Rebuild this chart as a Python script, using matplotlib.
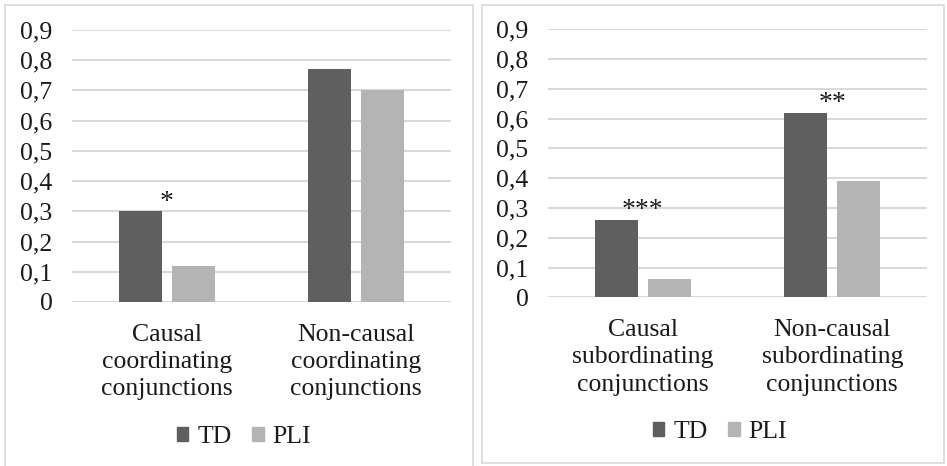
import matplotlib
matplotlib.use("Agg")
import matplotlib.pyplot as plt
from matplotlib.patches import Rectangle, Patch

plt.rcParams['font.family'] = ['Liberation Serif', 'DejaVu Serif']

series = ["TD", "PLI"]
left_categories = ["Causal\ncoordinating\nconjunctions", "Non-causal\ncoordinating\nconjunctions"]
left_td = [0.30, 0.77]
left_pli = [0.12, 0.70]
left_marks = ["*", ""]

right_categories = ["Causal\nsubordinating\nconjunctions", "Non-causal\nsubordinating\nconjunctions"]
right_td = [0.26, 0.62]
right_pli = [0.06, 0.39]
right_marks = ["***", "**"]

yticks = [0, 0.1, 0.2, 0.3, 0.4, 0.5, 0.6, 0.7, 0.8, 0.9]
ytick_labels = ["0", "0,1", "0,2", "0,3", "0,4", "0,5", "0,6", "0,7", "0,8", "0,9"]

W, H = 947, 466
fig = plt.figure(figsize=(W / 100, H / 100), dpi=100)

TD_COLOR = "#5f5f5f"
PLI_COLOR = "#b4b4b4"
GRID = "#d9d9d9"
TEXT = "#1a1a1a"
FS = 18.5


def px_rect(x0, y0, x1, y1):
    return [x0 / W, 1 - y1 / H, (x1 - x0) / W, (y1 - y0) / H]


# panel frames
fig.patches.append(Rectangle((5 / W, -0.01), (473 - 5) / W, 1 - 5 / H + 0.01,
                             transform=fig.transFigure, fill=False,
                             edgecolor=GRID, linewidth=1.2))
fig.patches.append(Rectangle((482 / W, 1 - 463 / H), (944 - 482) / W, (463 - 5) / H,
                             transform=fig.transFigure, fill=False,
                             edgecolor=GRID, linewidth=1.2))


def panel(rect, cats, td, pli, marks, legend_center):
    ax = fig.add_axes(rect)
    x = list(range(len(cats)))
    w = 0.227
    off = 0.14
    ax.bar([i - off for i in x], td, width=w, color=TD_COLOR, zorder=3)
    ax.bar([i + off for i in x], pli, width=w, color=PLI_COLOR, zorder=3)
    for i, m in enumerate(marks):
        if m:
            ax.text(i, td[i] - 0.012, m, ha="center", va="bottom",
                    fontsize=20, color=TEXT)
    ax.set_xlim(-0.5, len(cats) - 0.5)
    ax.set_ylim(0, 0.9)
    ax.set_yticks(yticks)
    ax.set_yticklabels(ytick_labels)
    ax.set_xticks(x)
    ax.set_xticklabels(cats, linespacing=1.32)
    ax.tick_params(axis="y", length=0, pad=14, labelsize=FS, labelcolor=TEXT)
    ax.tick_params(axis="x", length=0, pad=15.5, labelsize=FS, labelcolor=TEXT)
    ax.grid(axis="y", color=GRID, linewidth=1.5, zorder=0)
    for s in ax.spines.values():
        s.set_visible(False)
    ax.set_facecolor("none")
    handles = [Patch(color=TD_COLOR), Patch(color=PLI_COLOR)]
    fig.legend(handles, series, loc="center",
               bbox_to_anchor=(legend_center[0] / W, 1 - legend_center[1] / H),
               ncol=2, frameon=False, fontsize=FS, handlelength=0.45,
               handleheight=0.45, handletextpad=0.35, columnspacing=0.8,
               labelcolor=TEXT)
    return ax


panel(px_rect(72, 30, 451, 302), left_categories, left_td, left_pli, left_marks, (244, 437))
panel(px_rect(548, 29.3, 927, 297.3), right_categories, right_td, right_pli, right_marks, (720, 432))

fig.savefig("out.png", dpi=100, facecolor="white")
